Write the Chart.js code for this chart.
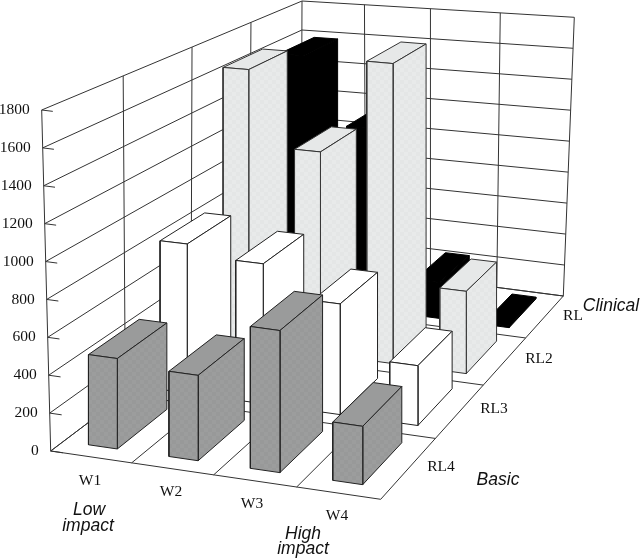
<!DOCTYPE html>
<html>
<head>
<meta charset="utf-8">
<style>
  html, body { margin: 0; padding: 0; background: #fff; }
  canvas { display: block; }
</style>
<script src="https://cdn.jsdelivr.net/npm/chart.js@4"></script>
</head>
<body>
<canvas id="chart3d" width="640" height="560"></canvas>
<script>
// values
const weekLabels = ['W1', 'W2', 'W3', 'W4'];
const rlLabels = ['RL4', 'RL3', 'RL2', 'RL'];
const valueTicks = [0, 200, 400, 600, 800, 1000, 1200, 1400, 1600, 1800];
const seriesRL4 = [480, 450, 745, 305];
const seriesRL3 = [845, 785, 615, 330];
const seriesRL2 = [1660, 1205, 1770, 480];
const seriesRL = [1580, 1150, 225, 10];

const rows = [seriesRL4, seriesRL3, seriesRL2, seriesRL];
const valueMax = 1800;

// perspective: corners of the floor and of the plane at the top of the walls
const floorQuad = makeQuad([50.7, 451], [380.7, 499.3], [563.3, 296], [301, 262]);
const topQuad = makeQuad([41.7, 110], [386.4, 152], [574.3, 17.3], [302, 1]);

function makeQuad(p0, p1, p2, p3) {
    const den = (p1[0] - p2[0]) * (p3[1] - p2[1]) - (p3[0] - p2[0]) * (p1[1] - p2[1]);
    const sx = p0[0] - p1[0] + p2[0] - p3[0];
    const sy = p0[1] - p1[1] + p2[1] - p3[1];
    const g = (sx * (p3[1] - p2[1]) - (p3[0] - p2[0]) * sy) / den;
    const h = ((p1[0] - p2[0]) * sy - sx * (p1[1] - p2[1])) / den;
    return function(s, t) {
        const w = g * s + h * t + 1;
        return [
            ((p1[0] - p0[0] + g * p1[0]) * s + (p3[0] - p0[0] + h * p3[0]) * t + p0[0]) / w,
            ((p1[1] - p0[1] + g * p1[1]) * s + (p3[1] - p0[1] + h * p3[1]) * t + p0[1]) / w
        ];
    };
}

// u: 0..4 along W, v: 0..4 along RL, val in chart units
function project(u, v, val) {
    const low = floorQuad(u / 4, v / 4), high = topQuad(u / 4, v / 4), f = val / valueMax;
    return { x: low[0] + (high[0] - low[0]) * f, y: low[1] + (high[1] - low[1]) * f };
}

// the bars stand upright in the picture, only the walls lean
function projectBar(u, v, val) {
    return { x: floorQuad(u / 4, v / 4)[0], y: project(u, v, val).y };
}

// faint stipple like the printed shading
function stipple(a, b) {
    const tile = document.createElement('canvas');
    tile.width = tile.height = 8;
    const t = tile.getContext('2d');
    t.fillStyle = a;
    t.fillRect(0, 0, 8, 8);
    t.fillStyle = b;
    t.fillRect(0, 0, 4, 4);
    t.fillRect(4, 4, 4, 4);
    return t.createPattern(tile, 'repeat');
}

const datasets = [];

function addLine(points) {
    datasets.push({
        data: points, showLine: true, pointRadius: 0, borderColor: '#333', borderWidth: 1,
        fill: false, tension: 0
    });
}

function addFace(points, color, line) {
    datasets.push({
        data: points.concat([points[0]]), showLine: true, pointRadius: 0, tension: 0,
        borderColor: line, borderWidth: 1, backgroundColor: color, fill: 'shape'
    });
}

// Floor and walls
for (let i = 0; i <= 4; i++) {
    addLine([project(i, 0, 0), project(i, 4, 0)]);
    addLine([project(0, i, 0), project(4, i, 0)]);
    if (i > 0) {
        addLine([project(0, i, 0), project(0, i, valueMax)]);
        addLine([project(i, 4, 0), project(i, 4, valueMax)]);
    }
}
valueTicks.forEach(function(val) {
    addLine([project(0.15, 0, val), project(0, 0, val), project(0, 4, val), project(4, 4, val)]);
});
addLine([project(0, 0, 0), project(0, 0, valueMax)]);

// Bars, back row first so the nearer ones cover them
const rowTop = ['#9a9b9b', '#ffffff', '#e6e8e8', '#000000'];
const rowSide = [stipple('#989999', '#9c9d9d'), '#ffffff', stipple('#e8eaea', '#e4e6e6'), '#000000'];
const rowLine = ['#222', '#222', '#333', '#000'];
for (let r = 3; r >= 0; r--) {
    for (let w = 0; w < 4; w++) {
        const val = rows[r][w];
        const u0 = w + 0.31, u1 = w + 0.67, v0 = r + 0.165, v1 = r + 0.86;
        addFace([projectBar(u0, v0, val), projectBar(u1, v0, val), projectBar(u1, v1, val), projectBar(u0, v1, val)], rowTop[r], rowLine[r]);
        addFace([projectBar(u1, v0, 0), projectBar(u1, v1, 0), projectBar(u1, v1, val), projectBar(u1, v0, val)], rowSide[r], rowLine[r]);
        addFace([projectBar(u0, v0, 0), projectBar(u1, v0, 0), projectBar(u1, v0, val), projectBar(u0, v0, val)], rowSide[r], rowLine[r]);
    }
}

// Text placed on the page
const serif = '15.5px "Liberation Serif"';
const sans = 'italic 17.5px "Liberation Sans"';
const weekX = [90, 171, 252, 337], weekY = [481, 492, 504, 516];
const rlX = [441, 494, 539, 573], rlY = [467, 409, 359, 316];
const titles = [
    ['Low', 89, 510], ['impact', 88, 526], ['High', 303, 534], ['impact', 303, 549],
    ['Basic', 498, 480], ['Clinical', 611, 306]
];

const textPlugin = {
    id: 'labels3d',
    afterDraw: function(chart) {
        const ctx = chart.ctx;
        const xs = chart.scales.x, ys = chart.scales.y;
        ctx.save();
        ctx.fillStyle = '#111';
        ctx.textBaseline = 'middle';
        ctx.font = serif;
        ctx.textAlign = 'right';
        valueTicks.forEach(function(val) {
            const p = project(0, 0, val);
            ctx.fillText(String(val), xs.getPixelForValue(p.x) - 12, ys.getPixelForValue(p.y));
        });
        ctx.textAlign = 'center';
        weekLabels.forEach(function(label, i) {
            ctx.fillText(label, xs.getPixelForValue(weekX[i]), ys.getPixelForValue(weekY[i]));
        });
        rlLabels.forEach(function(label, i) {
            ctx.fillText(label, xs.getPixelForValue(rlX[i]), ys.getPixelForValue(rlY[i]));
        });
        ctx.font = sans;
        titles.forEach(function(t) {
            ctx.fillText(t[0], xs.getPixelForValue(t[1]), ys.getPixelForValue(t[2]));
        });
        ctx.restore();
    }
};

new Chart(document.getElementById('chart3d').getContext('2d'), {
    type: 'scatter',
    // Chart.js paints the first dataset last, so hand them over reversed
    data: { datasets: datasets.reverse() },
    options: {
        responsive: false,
        animation: false,
        layout: { padding: 0 },
        plugins: { legend: { display: false }, tooltip: { enabled: false } },
        scales: {
            x: { type: 'linear', min: 0, max: 640, display: false },
            y: { type: 'linear', min: 0, max: 560, reverse: true, display: false }
        }
    },
    plugins: [textPlugin]
});
</script>
</body>
</html>
